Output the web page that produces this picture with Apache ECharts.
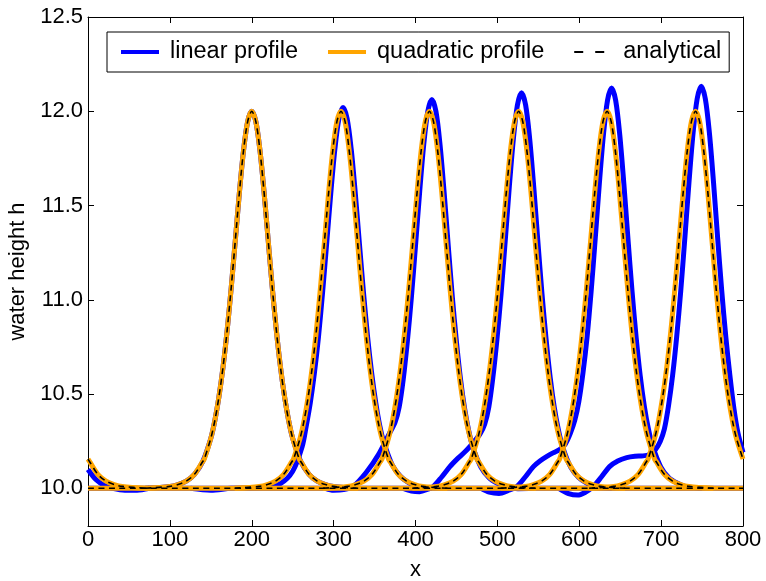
<!DOCTYPE html>
<html><head><meta charset="utf-8">
<script src="https://cdn.jsdelivr.net/npm/echarts@6/dist/echarts.min.js"></script>
<style>html,body{margin:0;padding:0;background:#fff}#c{width:766px;height:581px}</style>
</head><body><div id="c"></div>
<script>
const FONT = '"Liberation Sans", Arial, sans-serif';
const xTickStep = 100;
const yTickValues = [10.0, 10.5, 11.0, 11.5, 12.0, 12.5];
const baseline = [[0, 10.0], [800, 10.0]];

// analytical / quadratic pulse: heights read at offsets from each peak centre
const pulseOffsets = [-130,-100,-90,-80,-70,-60,-58,-50,-45,-40,-35,-30,-25,-20,-15,-10,-5,0,5,10,15,20,25,30,35,40,45,50,58,60,70,80,90,100,130];
const pulseHeights = [10.000,10.010,10.020,10.038,10.074,10.141,10.155,10.265,10.361,10.487,10.646,10.840,11.068,11.319,11.573,11.793,11.945,12.000,11.945,11.793,11.573,11.319,11.068,10.840,10.646,10.487,10.361,10.265,10.155,10.141,10.074,10.038,10.020,10.010,10.000];
const pulseCenters = [-58, 200, 309, 417, 526, 634, 742];

// linear profile snapshots [x, h]
const linear1 = [[70,10.0],[100,10.01],[110,10.02],[120,10.038],[130,10.074],[140,10.141],[150,10.265],[155,10.361],[160,10.487],[165,10.646],[170,10.84],[175,11.068],[180,11.319],[185,11.573],[190,11.793],[195,11.945],[200,12.0],[205,11.945],[210,11.793],[215,11.573],[220,11.319],[225,11.068],[230,10.84],[235,10.646],[240,10.487],[245,10.361],[250,10.265],[260,10.141],[270,10.074],[280,10.038],[290,10.02],[300,10.01],[330,10.0]];
const linear2 = [[125,10.0],[150,9.99],[175,10.0],[215,10.005],[235,10.025],[250,10.09],[261.5,10.22],[266.5,10.329],[271.5,10.453],[276.5,10.61],[281.5,10.803],[286.5,11.038],[291.5,11.298],[296.5,11.563],[301.5,11.798],[306.5,11.961],[311.5,12.02],[316.5,11.961],[321.5,11.798],[326.5,11.563],[331.5,11.298],[336.5,11.038],[341.5,10.803],[346.5,10.61],[351.5,10.453],[356.5,10.329],[361.5,10.241],[371.5,10.125],[381.5,10.064],[391.5,10.03],[401.5,10.01],[420,10.0]];
const linear3 = [[290,10.0],[300,9.99],[312,9.993],[324,10.01],[340,10.085],[355,10.18],[368,10.29],[375,10.35],[380,10.43],[385,10.578],[390,10.778],[395,11.014],[400,11.286],[405,11.568],[410,11.821],[415,11.999],[420,12.063],[425,11.999],[430,11.821],[435,11.568],[440,11.286],[445,11.014],[450,10.778],[455,10.578],[460,10.422],[465,10.305],[470,10.219],[480,10.111],[490,10.055],[500,10.027],[510,10.01],[525,9.998],[545,10.0]];
const linear4 = [[385,10.0],[395,9.986],[405,9.982],[415,9.995],[422,10.01],[432,10.06],[442,10.115],[452,10.16],[462,10.2],[471,10.245],[479,10.29],[484.5,10.34],[489.5,10.43],[494.5,10.588],[499.5,10.791],[504.5,11.031],[509.5,11.307],[514.5,11.595],[519.5,11.852],[524.5,12.033],[529.5,12.098],[534.5,12.033],[539.5,11.852],[544.5,11.595],[549.5,11.307],[554.5,11.031],[559.5,10.791],[564.5,10.588],[569.5,10.429],[574.5,10.31],[579.5,10.222],[589.5,10.112],[599.5,10.056],[609.5,10.027],[619.5,10.01],[640,10.0]];
const linear5 = [[480,10.0],[490,9.98],[502,9.973],[513,9.988],[523.5,10.008],[534,10.06],[544,10.115],[552,10.145],[560,10.168],[568,10.188],[576,10.205],[583,10.235],[589,10.29],[594.5,10.36],[599.5,10.46],[604.5,10.61],[609.5,10.8],[614.5,11.044],[619.5,11.323],[624.5,11.614],[629.5,11.874],[634.5,12.057],[639.5,12.123],[644.5,12.057],[649.5,11.874],[654.5,11.614],[659.5,11.323],[664.5,11.044],[669.5,10.8],[674.5,10.595],[679.5,10.435],[684.5,10.314],[689.5,10.225],[699.5,10.114],[709.5,10.056],[719.5,10.028],[729.5,10.01],[750,10.0]];
const linear6 = [[575,10.0],[587,9.972],[598,9.964],[607,9.978],[617,10.008],[627,10.06],[637,10.115],[647,10.145],[658,10.163],[668,10.17],[678,10.172],[686,10.18],[693,10.205],[699,10.25],[704,10.315],[709,10.437],[714,10.598],[719,10.804],[724,11.049],[729,11.329],[734,11.622],[739,11.883],[744,12.066],[749,12.133],[754,12.066],[759,11.883],[764,11.622],[769,11.329],[774,11.049],[779,10.804],[784,10.598],[789,10.42],[794,10.29],[800,10.19]];
const linearWrap = [[0,10.1],[10,10.045],[20,10.015],[30,10.0],[45,9.99],[60,9.99],[75,10.0]];
const linearSnapshots = [linear1, linear2, linear3, linear4, linear5, linear6, linearWrap];

const X_MIN = 0, X_MAX = 800;
const BLUE = '#0000ff', ORANGE = '#ffa500', BLACK = '#000000';

function pulseData(c) {
  return pulseOffsets.map((d, i) => [c + d, pulseHeights[i]]).filter(p => p[0] >= X_MIN && p[0] <= X_MAX);
}
function mk(name, data, color, width, dashed) {
  return {
    name: name, type: 'line', data: data, symbol: 'none', showSymbol: false, smooth: 0.3,
    clip: true, silent: true, animation: false,
    lineStyle: { color: color, width: width, type: dashed ? [6, 4.5] : 'solid', cap: 'butt', join: 'round' },
    itemStyle: { color: color }
  };
}
const series = [];
series.push(mk('linear profile', baseline, BLUE, 5, false));
linearSnapshots.forEach(d => series.push(mk('linear profile', d, BLUE, 5, false)));
series.push(mk('quadratic profile', baseline, ORANGE, 5, false));
pulseCenters.forEach(c => series.push(mk('quadratic profile', pulseData(c), ORANGE, 5, false)));
series.push(mk('analytical', baseline, BLACK, 1.6, true));
pulseCenters.forEach(c => series.push(mk('analytical', pulseData(c), BLACK, 1.6, true)));

// legend handles: 38px line inside a 44px icon box (tiny corner dots fix the box)
const SOLID_ICON = 'path://M0,0h38v4h-38zM43.95,0h0.05v0.05h-0.05z';
const DASH_ICON = 'path://M0,1h9v2h-9zM21,1h9v2h-9zM43.95,0h0.05v0.05h-0.05zM0,3.95h0.05v0.05h-0.05z';

const axisTxt = { fontSize: 22, color: '#000', fontFamily: FONT };
const chart = echarts.init(document.getElementById('c'), null, { renderer: 'canvas' });
chart.setOption({
  animation: false,
  backgroundColor: '#fff',
  grid: { left: 88, right: 23, top: 17, bottom: 55, containLabel: false, outerBoundsMode: 'none' },
  legend: {
    left: 107, top: 32, orient: 'horizontal', selectedMode: false,
    padding: [8, 8, 8, 14], itemWidth: 44, itemHeight: 4, itemGap: 30,
    borderColor: '#000', borderWidth: 1, backgroundColor: '#fff',
    textStyle: { fontSize: 23.5, color: '#000', fontFamily: FONT },
    data: [
      { name: 'linear profile', icon: SOLID_ICON, itemStyle: { color: BLUE } },
      { name: 'quadratic profile', icon: SOLID_ICON, itemStyle: { color: ORANGE } },
      { name: 'analytical', icon: DASH_ICON, itemStyle: { color: BLACK } }
    ]
  },
  xAxis: [
    { type: 'value', min: X_MIN, max: X_MAX, interval: xTickStep, position: 'bottom',
      name: 'x', nameLocation: 'middle', nameGap: 33, nameTextStyle: axisTxt,
      axisLine: { show: true, onZero: false, lineStyle: { color: '#000', width: 1 } },
      axisTick: { show: true, inside: true, length: 6, lineStyle: { color: '#000' } },
      axisLabel: Object.assign({ margin: 3 }, axisTxt),
      splitLine: { show: false } },
    { type: 'value', min: X_MIN, max: X_MAX, interval: xTickStep, position: 'top',
      axisLine: { show: true, onZero: false, lineStyle: { color: '#000', width: 1 } },
      axisTick: { show: true, inside: true, length: 6, lineStyle: { color: '#000' } },
      axisLabel: { show: false }, splitLine: { show: false } }
  ],
  yAxis: [
    { type: 'value', min: 9.8, max: 12.5, position: 'left',
      name: 'water height h', nameLocation: 'middle', nameGap: 52, nameRotate: 90, nameTextStyle: axisTxt,
      axisLine: { show: true, onZero: false, lineStyle: { color: '#000', width: 1 } },
      axisTick: { show: true, inside: true, length: 6, customValues: yTickValues, lineStyle: { color: '#000' } },
      axisLabel: Object.assign({ margin: 5, customValues: yTickValues, formatter: v => Number(v).toFixed(1) }, axisTxt),
      splitLine: { show: false } },
    { type: 'value', min: 9.8, max: 12.5, position: 'right',
      axisLine: { show: true, onZero: false, lineStyle: { color: '#000', width: 1 } },
      axisTick: { show: true, inside: true, length: 6, customValues: yTickValues, lineStyle: { color: '#000' } },
      axisLabel: { show: false }, splitLine: { show: false } }
  ],
  series: series
});
</script></body></html>
